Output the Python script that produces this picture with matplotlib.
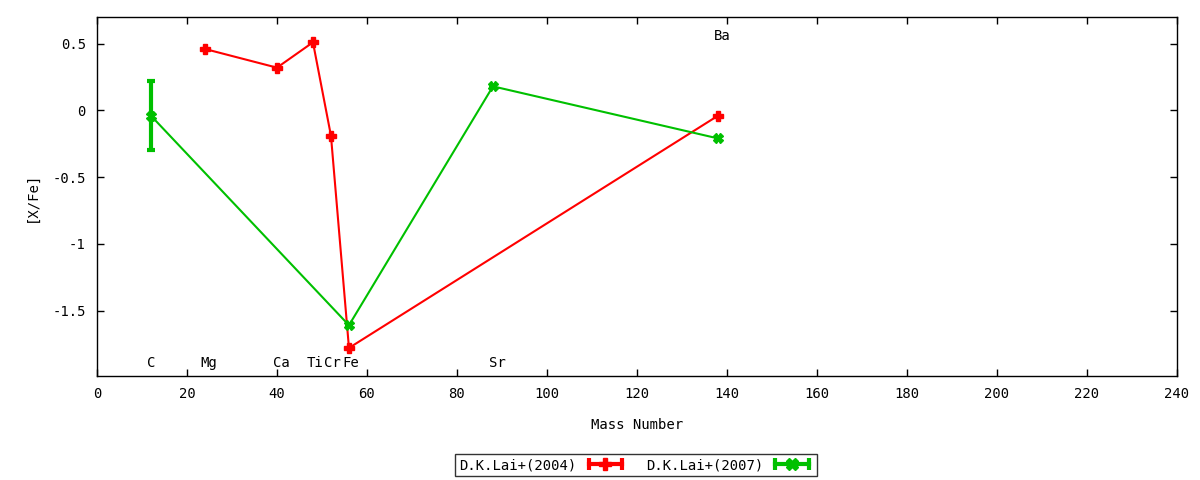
import numpy as np
import matplotlib
matplotlib.use('Agg')
import matplotlib.pyplot as plt
from matplotlib.lines import Line2D
from matplotlib.legend_handler import HandlerLine2D

plt.rcParams['font.family'] = ['DejaVu Sans Mono', 'DejaVu Sans']
plt.rcParams['font.size'] = 10

# D.K.Lai+(2004): Mg, Ca, Ti, Cr, Fe, Ba
mass_2004 = [24, 40, 48, 52, 56, 138]
xfe_2004 = [0.46, 0.32, 0.51, -0.19, -1.78, -0.04]

# D.K.Lai+(2007): C, Fe, Sr, Ba
mass_2007 = [12, 56, 88, 138]
xfe_2007 = [-0.04, -1.61, 0.18, -0.21]
err_2007 = [0.26, 0.0, 0.0, 0.0]

# element labels
elements = ['C', 'Mg', 'Ca', 'Ti', 'Cr', 'Fe', 'Sr', 'Ba']
elem_mass = [12, 24, 40, 47.5, 51.3, 55.5, 88, 138]
elem_y = [-1.89, -1.89, -1.89, -1.89, -1.89, -1.89, -1.89, 0.555]

red = '#ff0000'
green = '#00c000'

fig = plt.figure(figsize=(12, 4.8), dpi=100)
ax = fig.add_axes([0.0808, 0.2167, 0.9, 0.748])

ax.errorbar(mass_2004, xfe_2004, yerr=np.zeros(len(mass_2004)), color=red, lw=1.5,
            marker='P', markersize=7, mec=red, capsize=0, zorder=3)
ax.errorbar(mass_2007, xfe_2007, yerr=err_2007, color=green, lw=1.5,
            marker='X', markersize=7, mec=green, ecolor=green, elinewidth=3,
            capsize=3, capthick=3, zorder=3)

for name, m, y in zip(elements, elem_mass, elem_y):
    ax.annotate(name, (m, y), xytext=(-3, 0), textcoords='offset points',
                ha='left', va='center', fontsize=10)

ax.set_xlim(0, 240)
ax.set_ylim(-1.99, 0.70)
ax.set_xticks(np.arange(0, 241, 20))
ax.set_yticks([-1.5, -1, -0.5, 0, 0.5])
ax.set_yticklabels(['-1.5', '-1', '-0.5', '0', '0.5'])
ax.tick_params(direction='in', length=5, width=1, top=True, right=True, pad=8)
for s in ax.spines.values():
    s.set_linewidth(1)

ax.set_xlabel('Mass Number', labelpad=12)
ax.set_ylabel('[X/Fe]', labelpad=10)

# gnuplot-like legend keys: horizontal bar with end caps and a centre marker
h04_bar = Line2D([], [], color=red, lw=3, marker='|', markersize=9, mew=3)
h04_pt = Line2D([], [], color=red, lw=0, marker='P', markersize=8)
h07_bar = Line2D([], [], color=green, lw=3, marker='|', markersize=9, mew=3)
h07_pt = Line2D([], [], color=green, lw=0, marker='X', markersize=8)
hmap = {h04_bar: HandlerLine2D(numpoints=2), h07_bar: HandlerLine2D(numpoints=2),
        h04_pt: HandlerLine2D(numpoints=1), h07_pt: HandlerLine2D(numpoints=1)}
leg = fig.legend([(h04_bar, h04_pt), (h07_bar, h07_pt)],
                 ['D.K.Lai+(2004)', 'D.K.Lai+(2007)'],
                 loc='center', bbox_to_anchor=(0.53, 0.031), ncol=2,
                 markerfirst=False, frameon=True, fancybox=False,
                 handlelength=3.0, handletextpad=0.6, borderpad=0.3,
                 borderaxespad=0, columnspacing=1.4, handler_map=hmap)
leg.get_frame().set_edgecolor('black')
leg.get_frame().set_linewidth(1)

fig.savefig('out.png', dpi=100)
